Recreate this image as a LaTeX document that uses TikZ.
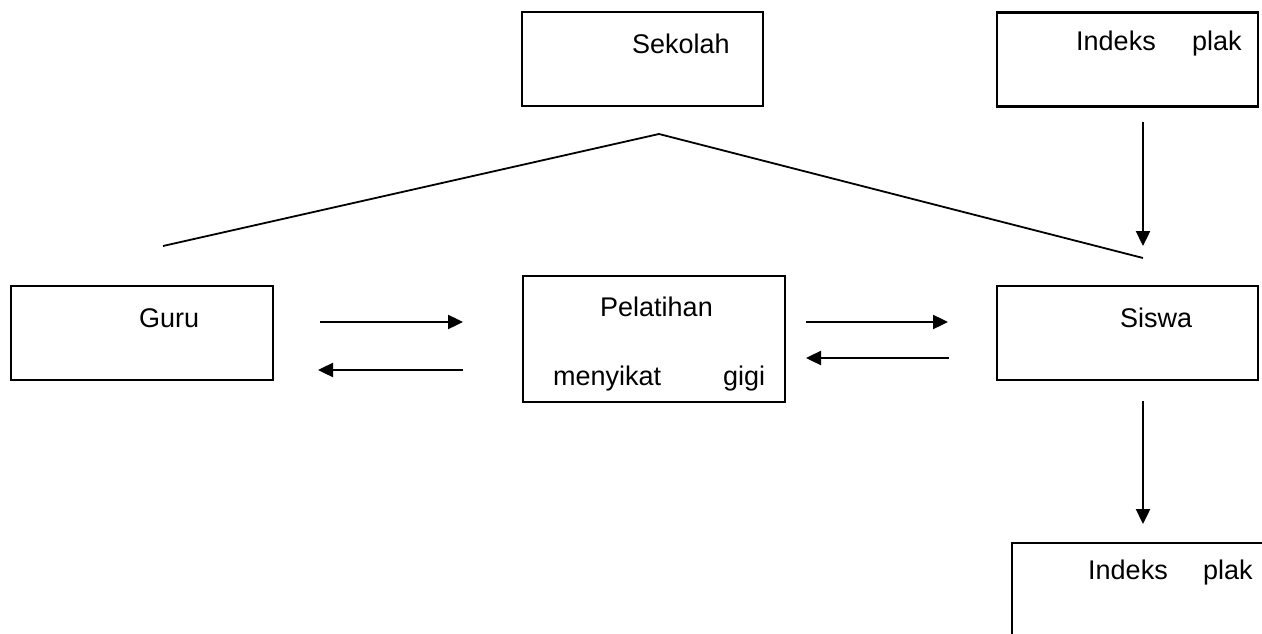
\documentclass[tikz,border=0pt]{standalone}
\usepackage{fontspec}
\setmainfont{Liberation Sans}
\usetikzlibrary{arrows.meta}
\begin{document}
\begin{tikzpicture}[x=1pt,y=-1pt,
  box/.style={draw,line width=2.2pt,inner sep=0pt,outer sep=0pt,rectangle},
  lbl/.style={inner sep=0pt,anchor=base west,font=\fontsize{27}{30}\selectfont},
  arr/.style={line width=2.4pt,-{Triangle[length=15pt,width=14pt]}},
  ln/.style={line width=1.8pt}]
\useasboundingbox (0,0) rectangle (1262,634);
\clip (0,0) rectangle (1262,634);
% boxes
\node[box,minimum width=241,minimum height=94] (sek) at (642.5,59) {};
\node[box,minimum width=261,minimum height=94] (ipa) at (1127.5,59.5) {};
\node[box,minimum width=262,minimum height=94] (guru) at (142,333) {};
\node[box,minimum width=262,minimum height=126] (pel) at (654,339) {};
\node[box,minimum width=261,minimum height=94] (sis) at (1127.5,333) {};
\node[box,minimum width=280,minimum height=140] (ipb) at (1152,613) {};
% texts
\node[lbl] (tsek) at (632,54) {Sekolah};
\node[lbl] (tipa1) at (1076,51) {Indeks};
\node[lbl] (tipa2) at (1192,51) {plak};
\node[lbl] (tguru) at (139,327) {Guru};
\node[lbl] (tpel1) at (600,316) {Pelatihan};
\node[lbl] (tpel2) at (553,385) {menyikat};
\node[lbl] (tpel3) at (723,385) {gigi};
\node[lbl] (tsis) at (1120,327) {Siswa};
\node[lbl] (tipb1) at (1088,579) {Indeks};
\node[lbl] (tipb2) at (1203,579) {plak};
% coordinates
\coordinate (apex) at (659,134);
\coordinate (lend) at (163,246);
\coordinate (rend) at (1143,258);
\coordinate (a1s) at (1143,122);
\coordinate (a1e) at (1143,246);
\coordinate (g1s) at (320,322);
\coordinate (g1e) at (463,322);
\coordinate (g2s) at (463,370);
\coordinate (g2e) at (318,370);
\coordinate (p1s) at (806,322);
\coordinate (p1e) at (948,322);
\coordinate (p2s) at (949,358);
\coordinate (p2e) at (806,358);
\coordinate (s1s) at (1143,401);
\coordinate (s1e) at (1143,524);
% connectors
\draw[ln] (lend) -- (apex) -- (rend);
\draw[arr] (a1s) -- (a1e);
\draw[arr] (g1s) -- (g1e);
\draw[arr] (g2s) -- (g2e);
\draw[arr] (p1s) -- (p1e);
\draw[arr] (p2s) -- (p2e);
\draw[arr] (s1s) -- (s1e);
\end{tikzpicture}
\end{document}
